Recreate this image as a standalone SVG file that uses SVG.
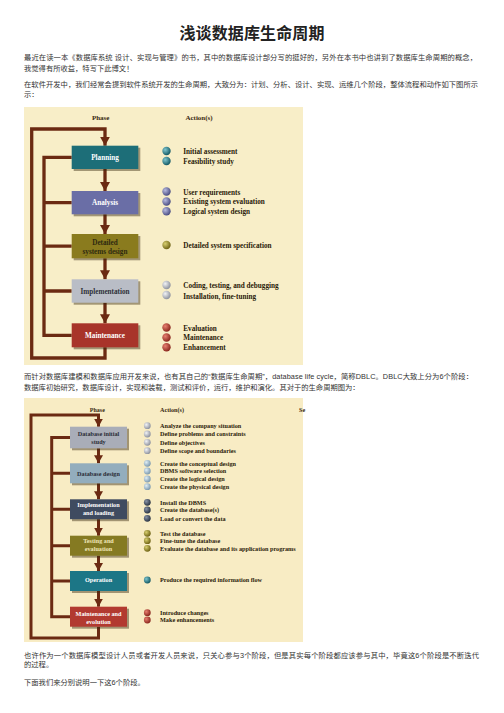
<svg xmlns="http://www.w3.org/2000/svg" width="504" height="713" viewBox="0 0 504 713">
<defs>
<style>
.zh{font-family:"Liberation Sans","Noto Sans CJK SC",sans-serif;font-size:7.3px;fill:#333}
.title{font-family:"Liberation Sans","Noto Sans CJK SC",sans-serif;font-size:16px;font-weight:bold;fill:#222}
.hd{font-family:"Liberation Serif",serif;font-weight:bold;fill:#3a2a10}
.act{font-family:"Liberation Serif",serif;font-weight:bold;fill:#2a1a08;font-size:7.2px}
.act2{font-family:"Liberation Serif",serif;font-weight:bold;fill:#2a1a08;font-size:6.2px}
.bx{font-family:"Liberation Serif",serif;font-weight:bold;text-anchor:middle;font-size:7.2px}
.bx2{font-family:"Liberation Serif",serif;font-weight:bold;text-anchor:middle;font-size:6.2px}
.w{fill:#fff}
.d{fill:#2e2a10}
.ln{fill:none;stroke:#6b2a12;stroke-width:3.3;stroke-linejoin:miter}
.ln2{fill:none;stroke:#6b2a12;stroke-width:3;stroke-linejoin:miter}
.sh{fill:#3a2a10;opacity:0.45}
</style>
<marker id="ah" viewBox="0 0 9 10" refX="9" refY="5" markerWidth="9" markerHeight="10" markerUnits="userSpaceOnUse" orient="auto">
<path d="M0,0 L9,5 L0,10 z" fill="#6b2a12"/>
</marker>
<marker id="ah2" viewBox="0 0 8 9" refX="8" refY="4.5" markerWidth="8" markerHeight="9" markerUnits="userSpaceOnUse" orient="auto">
<path d="M0,0 L8,4.5 L0,9 z" fill="#6b2a12"/>
</marker>
<radialGradient id="gTeal" cx="0.35" cy="0.35" r="0.7"><stop offset="0" stop-color="#7fc6cf"/><stop offset="1" stop-color="#0f5560"/></radialGradient>
<radialGradient id="gPurp" cx="0.35" cy="0.35" r="0.7"><stop offset="0" stop-color="#b8bbe0"/><stop offset="1" stop-color="#45487e"/></radialGradient>
<radialGradient id="gOlive" cx="0.35" cy="0.35" r="0.7"><stop offset="0" stop-color="#d8cf70"/><stop offset="1" stop-color="#6a5e10"/></radialGradient>
<radialGradient id="gGrey" cx="0.35" cy="0.35" r="0.7"><stop offset="0" stop-color="#f2f3f6"/><stop offset="1" stop-color="#8a8e9a"/></radialGradient>
<radialGradient id="gRed" cx="0.35" cy="0.35" r="0.7"><stop offset="0" stop-color="#e88070"/><stop offset="1" stop-color="#86231a"/></radialGradient>
<radialGradient id="gBlue" cx="0.35" cy="0.35" r="0.7"><stop offset="0" stop-color="#e0eef5"/><stop offset="1" stop-color="#7896ac"/></radialGradient>
<radialGradient id="gDark" cx="0.35" cy="0.35" r="0.7"><stop offset="0" stop-color="#8a94a8"/><stop offset="1" stop-color="#26303e"/></radialGradient>
</defs>
<rect width="504" height="713" fill="#fff"/>

<g id="text">
<text class="title" x="252" y="39" text-anchor="middle" textLength="145" lengthAdjust="spacing">浅谈数据库生命周期</text>
<text class="zh" x="24" y="60" textLength="453" lengthAdjust="spacing">最近在读一本《数据库系统 设计、实现与管理》的书，其中的数据库设计部分写的挺好的，另外在本书中也讲到了数据库生命周期的概念，</text>
<text class="zh" x="24" y="71">我觉得有所收益，特写下此博文！</text>
<text class="zh" x="24" y="87" textLength="454" lengthAdjust="spacing">在软件开发中，我们经常会提到软件系统开发的生命周期，大致分为：计划、分析、设计、实现、运维几个阶段，整体流程和动作如下图所示</text>
<text class="zh" x="24" y="97">示：</text>
<text class="zh" x="24" y="378.6" textLength="449" lengthAdjust="spacing">而针对数据库建模和数据库应用开发来说，也有其自己的“数据库生命周期”，database life cycle，简称DBLC。DBLC大致上分为6个阶段：</text>
<text class="zh" x="24" y="390">数据库初始研究，数据库设计，实现和装载，测试和评价，运行，维护和演化。其对于的生命周期图为：</text>
<text class="zh" x="24" y="658" textLength="455" lengthAdjust="spacing">也许作为一个数据库模型设计人员或者开发人员来说，只关心参与3个阶段，但是其实每个阶段都应该参与其中，毕竟这6个阶段是不断迭代</text>
<text class="zh" x="24" y="667.3">的过程。</text>
<text class="zh" x="24" y="684.5">下面我们来分别说明一下这6个阶段。</text>
</g>

<g id="figure1">
<rect x="24" y="107" width="279" height="258" fill="#f8eec8"/>
<text class="hd" x="100.7" y="119.5" font-size="7" text-anchor="middle">Phase</text>
<text class="hd" x="199" y="119.5" font-size="7" text-anchor="middle">Action(s)</text>

<g id="f1-connectors">
<path class="ln" d="M105,347.3 V358 H31.7 V129 H105 V145.7" marker-end="url(#ah)"/>
<path class="ln" d="M71.7,157.3 H44 V335.3 H71.7 M44,202.7 H71.7 M44,246.2 H71.7 M44,291 H71.7"/>
<path class="ln" d="M105,169 V191" marker-end="url(#ah)"/>
<path class="ln" d="M105,214.3 V234" marker-end="url(#ah)"/>
<path class="ln" d="M105,258.3 V279.3" marker-end="url(#ah)"/>
<path class="ln" d="M105,302.7 V323.3" marker-end="url(#ah)"/>
</g>

<g id="planning">
<rect class="sh" x="73.7" y="147.7" width="66.6" height="23.3"/>
<rect x="71.7" y="145.7" width="66.6" height="23.3" fill="#1d6e78"/>
<text class="bx w" x="105" y="160">Planning</text>
<circle cx="166.5" cy="151" r="4.2" fill="url(#gTeal)"/>
<circle cx="166.5" cy="161" r="4.2" fill="url(#gTeal)"/>
<text class="act" x="183.3" y="154.2">Initial assessment</text>
<text class="act" x="183.3" y="163.6">Feasibility study</text>
</g>

<g id="analysis">
<rect class="sh" x="73.7" y="193" width="66.6" height="23.3"/>
<rect x="71.7" y="191" width="66.6" height="23.3" fill="#6a6ea6"/>
<text class="bx w" x="105" y="205.2">Analysis</text>
<circle cx="166.5" cy="191.5" r="4.2" fill="url(#gPurp)"/>
<circle cx="166.5" cy="201.5" r="4.2" fill="url(#gPurp)"/>
<circle cx="166.5" cy="211.3" r="4.2" fill="url(#gPurp)"/>
<text class="act" x="183.3" y="194.5">User requirements</text>
<text class="act" x="183.3" y="204.2">Existing system evaluation</text>
<text class="act" x="183.3" y="213.9">Logical system design</text>
</g>

<g id="detailed">
<rect class="sh" x="73.7" y="236" width="66.6" height="24.3"/>
<rect x="71.7" y="234" width="66.6" height="24.3" fill="#8a7b1e"/>
<text class="bx d" x="105" y="245">Detailed</text>
<text class="bx d" x="105" y="253.5">systems design</text>
<circle cx="166.5" cy="245" r="4.2" fill="url(#gOlive)"/>
<text class="act" x="183.3" y="247.6">Detailed system specification</text>
</g>

<g id="implementation">
<rect class="sh" x="73.7" y="281.3" width="66.6" height="23.4"/>
<rect x="71.7" y="279.3" width="66.6" height="23.4" fill="#b9bdc6"/>
<text class="bx" x="105" y="293.5" fill="#2e3038">Implementation</text>
<circle cx="166.5" cy="285" r="4.2" fill="url(#gGrey)"/>
<circle cx="166.5" cy="295" r="4.2" fill="url(#gGrey)"/>
<text class="act" x="183.3" y="288">Coding, testing, and debugging</text>
<text class="act" x="183.3" y="298.5">Installation, fine-tuning</text>
</g>

<g id="maintenance">
<rect class="sh" x="73.7" y="325.3" width="66.6" height="24"/>
<rect x="71.7" y="323.3" width="66.6" height="24" fill="#a8342a"/>
<text class="bx w" x="105" y="337.8">Maintenance</text>
<circle cx="166.5" cy="327.5" r="4.2" fill="url(#gRed)"/>
<circle cx="166.5" cy="337.5" r="4.2" fill="url(#gRed)"/>
<circle cx="166.5" cy="347.3" r="4.2" fill="url(#gRed)"/>
<text class="act" x="183.3" y="330.5">Evaluation</text>
<text class="act" x="183.3" y="339.8">Maintenance</text>
<text class="act" x="183.3" y="349.6">Enhancement</text>
</g>
</g>

<g id="figure2">
<rect x="24" y="398" width="279" height="244" fill="#f8ecc4"/>
<text class="hd" x="97.3" y="411.5" font-size="6" text-anchor="middle">Phase</text>
<text class="hd" x="160" y="412" font-size="6.2">Action(s)</text>
<text class="hd" x="299" y="412" font-size="6.2">Se</text>

<g id="f2-connectors">
<path class="ln2" d="M98.5,626.7 V638 H31 V415 H98.5 V426.7" marker-end="url(#ah2)"/>
<path class="ln2" d="M70,437.5 H51.7 V616.7 H70 M51.7,473.3 H70 M51.7,509.2 H70 M51.7,545.7 H70 M51.7,581 H70"/>
<path class="ln2" d="M98.5,448.3 V463.3" marker-end="url(#ah2)"/>
<path class="ln2" d="M98.5,483.3 V499.3" marker-end="url(#ah2)"/>
<path class="ln2" d="M98.5,519.2 V535.7" marker-end="url(#ah2)"/>
<path class="ln2" d="M98.5,555.7 V571" marker-end="url(#ah2)"/>
<path class="ln2" d="M98.5,591 V606.7" marker-end="url(#ah2)"/>
</g>

<g id="db-initial-study">
<rect class="sh" x="72" y="428.7" width="57" height="21.6"/>
<rect x="70" y="426.7" width="57" height="21.6" fill="#a9adb8"/>
<text class="bx2" x="98.5" y="435.5" fill="#2a2c36">Database initial</text>
<text class="bx2" x="98.5" y="443.5" fill="#2a2c36">study</text>
<circle cx="147.3" cy="425.7" r="3.4" fill="url(#gGrey)"/>
<circle cx="147.3" cy="434" r="3.4" fill="url(#gGrey)"/>
<circle cx="147.3" cy="442.3" r="3.4" fill="url(#gGrey)"/>
<circle cx="147.3" cy="450.7" r="3.4" fill="url(#gGrey)"/>
<text class="act2" x="160" y="428">Analyze the company situation</text>
<text class="act2" x="160" y="436.3">Define problems and constraints</text>
<text class="act2" x="160" y="444.6">Define objectives</text>
<text class="act2" x="160" y="453">Define scope and boundaries</text>
</g>

<g id="db-design">
<rect class="sh" x="72" y="465.3" width="57" height="20"/>
<rect x="70" y="463.3" width="57" height="20" fill="#93adbd"/>
<text class="bx2" x="98.5" y="475.5" fill="#2a2c36">Database design</text>
<circle cx="147.3" cy="463.3" r="3.4" fill="url(#gBlue)"/>
<circle cx="147.3" cy="471" r="3.4" fill="url(#gBlue)"/>
<circle cx="147.3" cy="479" r="3.4" fill="url(#gBlue)"/>
<circle cx="147.3" cy="486.7" r="3.4" fill="url(#gBlue)"/>
<text class="act2" x="160" y="465.6">Create the conceptual design</text>
<text class="act2" x="160" y="473.3">DBMS software selection</text>
<text class="act2" x="160" y="481.3">Create the logical design</text>
<text class="act2" x="160" y="489">Create the physical design</text>
</g>

<g id="impl-loading">
<rect class="sh" x="72" y="501.3" width="57" height="19.9"/>
<rect x="70" y="499.3" width="57" height="19.9" fill="#3f4b60"/>
<text class="bx2 w" x="98.5" y="507.2">Implementation</text>
<text class="bx2 w" x="98.5" y="514.8">and loading</text>
<circle cx="147.3" cy="502.3" r="3.4" fill="url(#gDark)"/>
<circle cx="147.3" cy="510" r="3.4" fill="url(#gDark)"/>
<circle cx="147.3" cy="518.3" r="3.4" fill="url(#gDark)"/>
<text class="act2" x="160" y="504.6">Install the DBMS</text>
<text class="act2" x="160" y="512.3">Create the database(s)</text>
<text class="act2" x="160" y="520.6">Load or convert the data</text>
</g>

<g id="testing">
<rect class="sh" x="72" y="537.7" width="57" height="20"/>
<rect x="70" y="535.7" width="57" height="20" fill="#857a22"/>
<text class="bx2" x="98.5" y="543" fill="#efe6b8">Testing and</text>
<text class="bx2" x="98.5" y="550.6" fill="#efe6b8">evaluation</text>
<circle cx="147.3" cy="533.3" r="3.4" fill="url(#gOlive)"/>
<circle cx="147.3" cy="540.7" r="3.4" fill="url(#gOlive)"/>
<circle cx="147.3" cy="548.3" r="3.4" fill="url(#gOlive)"/>
<text class="act2" x="160" y="535.6">Test the database</text>
<text class="act2" x="160" y="543">Fine-tune the database</text>
<text class="act2" x="160" y="550.6">Evaluate the database and its application programs</text>
</g>

<g id="operation">
<rect class="sh" x="72" y="573" width="57" height="20"/>
<rect x="70" y="571" width="57" height="20" fill="#1c7686"/>
<text class="bx2 w" x="98.5" y="582.3">Operation</text>
<circle cx="147.3" cy="580" r="3.4" fill="url(#gTeal)"/>
<text class="act2" x="160" y="582.3">Produce the required information flow</text>
</g>

<g id="maint-evolution">
<rect class="sh" x="72" y="608.7" width="57" height="20"/>
<rect x="70" y="606.7" width="57" height="20" fill="#b23a30"/>
<text class="bx2 w" x="98.5" y="616">Maintenance and</text>
<text class="bx2 w" x="98.5" y="623.5">evolution</text>
<circle cx="147.3" cy="612.7" r="3.4" fill="url(#gRed)"/>
<circle cx="147.3" cy="620" r="3.4" fill="url(#gRed)"/>
<text class="act2" x="160" y="615">Introduce changes</text>
<text class="act2" x="160" y="622.3">Make enhancements</text>
</g>
</g>
</svg>
